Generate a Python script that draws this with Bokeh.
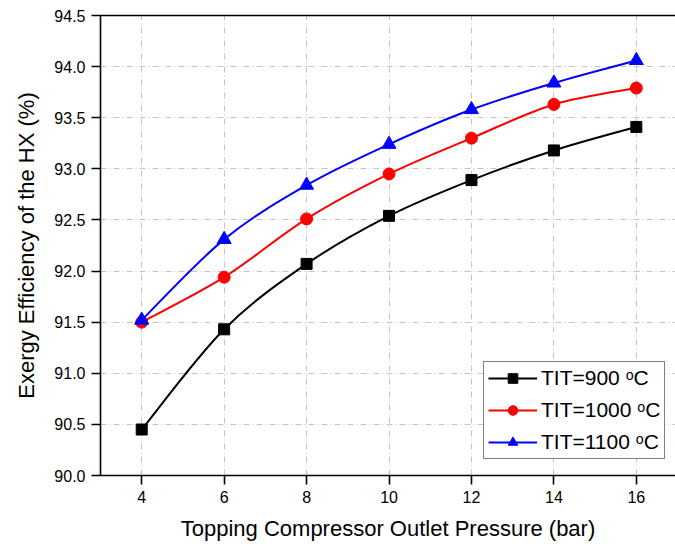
from bokeh.plotting import figure
from bokeh.models import FixedTicker, LinearAxis, Range1d, Legend, NumeralTickFormatter
from bokeh.embed import file_html
from bokeh.resources import INLINE

pressure = [4, 6, 8, 10, 12, 14, 16]
eff_900 = [90.45, 91.43, 92.07, 92.54, 92.89, 93.18, 93.41]
eff_1000 = [91.50, 91.94, 92.51, 92.95, 93.30, 93.63, 93.79]
eff_1100 = [91.52, 92.31, 92.84, 93.24, 93.58, 93.84, 94.06]
labels = ["TIT=900 \u1d52C", "TIT=1000 \u1d52C", "TIT=1100 \u1d52C"]
x_ticks = [4, 6, 8, 10, 12, 14, 16]
y_ticks = [90.0, 90.5, 91.0, 91.5, 92.0, 92.5, 93.0, 93.5, 94.0, 94.5]

FONT = "Liberation Sans"

p = figure(width=675, height=547, output_backend="svg", toolbar_location=None,
           x_range=Range1d(3.0, 16.95), y_range=Range1d(90.0, 94.5),
           min_border_left=100, min_border_right=0, min_border_top=15, min_border_bottom=72)
p.outline_line_color = None
p.background_fill_color = "white"
p.border_fill_color = "white"


def smooth(xs, ys):
    n = len(xs)
    x0, y0, x1, y1, cx0, cy0, cx1, cy1 = [], [], [], [], [], [], [], []
    for i in range(n - 1):
        im = max(i - 1, 0)
        ip2 = min(i + 2, n - 1)
        x0.append(xs[i]); y0.append(ys[i])
        x1.append(xs[i + 1]); y1.append(ys[i + 1])
        cx0.append(xs[i] + (xs[i + 1] - xs[im]) / 6.0)
        cy0.append(ys[i] + (ys[i + 1] - ys[im]) / 6.0)
        cx1.append(xs[i + 1] - (xs[ip2] - xs[i]) / 6.0)
        cy1.append(ys[i + 1] - (ys[ip2] - ys[i]) / 6.0)
    return dict(x0=x0, y0=y0, x1=x1, y1=y1, cx0=cx0, cy0=cy0, cx1=cx1, cy1=cy1)


series = [
    (eff_900, "black", "square", 11),
    (eff_1000, "red", "circle", 12),
    (eff_1100, "blue", "triangle", 14),
]
items = []
for (ys, col, mk, sz), lab in zip(series, labels):
    b = p.bezier(line_color=col, line_width=2, **smooth(pressure, ys))
    s = p.scatter(pressure, ys, marker=mk, size=sz, fill_color=col, line_color=col)
    items.append((lab, [b, s]))

legend = Legend(items=items, location=(383, 16))
legend.label_text_font = FONT
legend.label_text_font_size = "21px"
legend.label_text_color = "black"
legend.glyph_width = 49
legend.glyph_height = 24
legend.label_height = 24
legend.label_standoff = 4
legend.spacing = 8
legend.padding = 4
legend.margin = 0
legend.border_line_color = "black"
legend.border_line_width = 1.2
legend.background_fill_alpha = 1.0
p.add_layout(legend)

# axes
for ax in (p.xaxis[0], p.yaxis[0]):
    ax.axis_line_width = 1.6
    ax.axis_line_color = "black"
    ax.major_tick_line_width = 1.6
    ax.major_tick_out = 9
    ax.major_tick_in = 0
    ax.minor_tick_line_color = None
    ax.major_label_text_font = FONT
    ax.major_label_text_font_size = "16px"
    ax.major_label_text_color = "black"
    ax.axis_label_text_font = FONT
    ax.axis_label_text_font_size = "22px"
    ax.axis_label_text_font_style = "normal"
    ax.axis_label_text_color = "black"

p.xaxis.ticker = FixedTicker(ticks=x_ticks)
p.yaxis.ticker = FixedTicker(ticks=y_ticks)
p.yaxis.formatter = NumeralTickFormatter(format="0.0")
p.xaxis.axis_label = "Topping Compressor Outlet Pressure (bar)"
p.yaxis.axis_label = "Exergy Efficiency of the HX (%)"
p.xaxis.major_label_standoff = 6
p.yaxis.major_label_standoff = 6
p.xaxis.axis_label_standoff = 10
p.yaxis.axis_label_standoff = 12

top = LinearAxis(ticker=FixedTicker(ticks=[]), axis_line_width=1.6, axis_line_color="black",
                 major_tick_line_color=None, minor_tick_line_color=None,
                 major_label_text_font_size="0px")
p.add_layout(top, "above")

# grid
p.xgrid.ticker = FixedTicker(ticks=x_ticks)
p.ygrid.ticker = FixedTicker(ticks=y_ticks)
for g in (p.xgrid[0], p.ygrid[0]):
    g.grid_line_color = "#c4c4c4"
    g.grid_line_width = 1
    g.grid_line_dash = "6 3 1 3"

open("out.html", "w").write(file_html(p, INLINE))
